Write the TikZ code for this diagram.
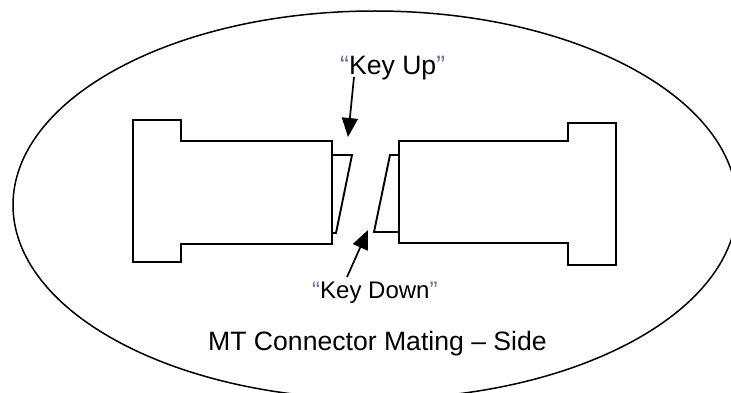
\documentclass[tikz,border=0pt]{standalone}
\usepackage{fontspec}
\setmainfont{Liberation Sans}
\usepackage{xcolor}
\usepackage{tikz}
\usetikzlibrary{arrows.meta}
\definecolor{quotecolor}{RGB}{110,110,170}
\newcommand{\keyquote}[1]{\textcolor{quotecolor}{#1}}

\begin{document}
\begin{tikzpicture}[x=1pt, y=-1pt, outline/.style={black, line width=1.9pt, line join=miter}, pointer/.style={black, line width=1.7pt, -{Triangle[length=19pt, width=16pt]}}, labeltext/.style={anchor=base west, inner sep=0pt}]
	\useasboundingbox (0,0) rectangle (731,393);
	\draw[line width=1.5pt] (375,205) ellipse [x radius=362, y radius=194];
	% left connector
	\draw[outline] (332,141) -- (181,141) -- (181,120) -- (133,120) -- (133,262) -- (181,262) -- (181,244) -- (332,244) -- cycle;
	\draw[outline] (332,155) -- (352,155) -- (336,233) -- (332,233);
	% right connector
	\draw[outline] (399,141) -- (568,141) -- (568,123) -- (616,123) -- (616,265) -- (568,265) -- (568,243) -- (399,243) -- cycle;
	\draw[outline] (399,155) -- (390,155) -- (374,232) -- (399,232);
	% labels
	\node[labeltext, font=\fontsize{26.6}{30}\selectfont] (keyup) at (340,75) {\keyquote{“}Key Up\keyquote{”}};
	\node[labeltext, font=\fontsize{24}{28}\selectfont] (keydown) at (312,298) {\keyquote{“}Key Down\keyquote{”}};
	\node[labeltext, font=\fontsize{26.6}{30}\selectfont] (title) at (208,350) {MT Connector Mating – Side};
	\coordinate (keyuptip) at (348,137);
	\coordinate (keydowntip) at (368,230);
	\draw[pointer] ([xshift=14pt,yshift=-2pt]keyup.base west) -- (keyuptip);
	\draw[pointer] ([xshift=35pt,yshift=21pt]keydown.base west) -- (keydowntip);
\end{tikzpicture}
\end{document}
